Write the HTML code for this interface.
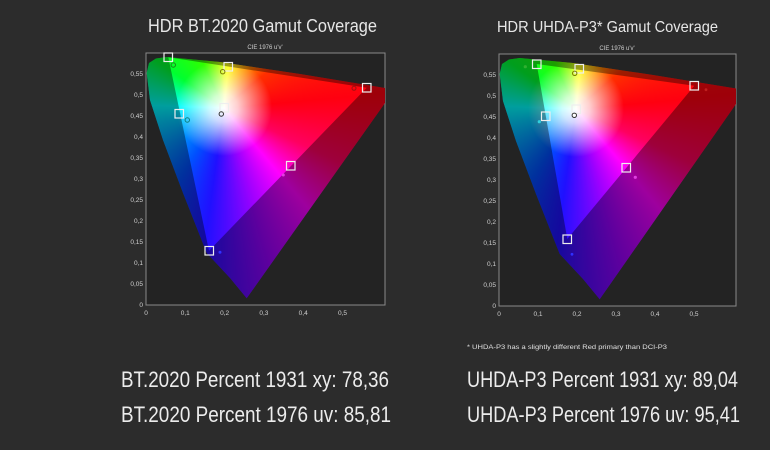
<!DOCTYPE html>
<html><head><meta charset="utf-8"><style>
html,body{margin:0;padding:0;background:#2c2c2c;}
svg{display:block}
text{font-family:"Liberation Sans",sans-serif;}
.g{position:absolute;left:0;top:0;width:770px;height:450px;}
#gl{clip-path:path('M246.7,298.3 L230,278 L206.7,253 L183,193 L163,140 L150,100 L146.7,73 L149,63 L156,58.5 L166.7,57 L220,62 L300,74 L385,88 L385,103 Z');
background:radial-gradient(circle at 224px 108px, rgba(255,255,255,1) 0px, rgba(255,255,255,0.8) 14px, rgba(255,255,255,0) 48px),
conic-gradient(from 0deg at 224px 108px,#e8ff00 0deg,#ffff00 6deg,#ffa000 26deg,#ff3000 50deg,#ff0010 85deg,#ff0060 115deg,#ff00ff 140deg,#a000ff 162deg,#2010ff 188deg,#0050ff 212deg,#0090ff 235deg,#00d0ff 258deg,#00ffff 272deg,#00ffa0 288deg,#00ff30 305deg,#30ff00 335deg,#a0ff00 352deg,#e8ff00 360deg);}
#gr{clip-path:path('M599.7,299.3 L583,279 L559.7,254 L536,194 L516,141 L503,101 L499.7,74 L502,64 L509,59.5 L519.7,58 L573,63 L653,75 L736,88.5 L736,104 Z');
background:radial-gradient(circle at 576px 109px, rgba(255,255,255,1) 0px, rgba(255,255,255,0.8) 14px, rgba(255,255,255,0) 48px),
conic-gradient(from 0deg at 576px 109px,#e8ff00 0deg,#ffff00 6deg,#ffa000 26deg,#ff3000 50deg,#ff0010 85deg,#ff0060 115deg,#ff00ff 140deg,#a000ff 162deg,#2010ff 188deg,#0050ff 212deg,#0090ff 235deg,#00d0ff 258deg,#00ffff 272deg,#00ffa0 288deg,#00ff30 305deg,#30ff00 335deg,#a0ff00 352deg,#e8ff00 360deg);}
</style></head><body>
<svg width="770" height="450" viewBox="0 0 770 450" xmlns="http://www.w3.org/2000/svg">
<rect width="770" height="450" fill="#2c2c2c"/>
<rect x="146" y="53" width="239" height="252" fill="#232323" stroke="#8a8a8a" stroke-width="1"/>
<rect x="499" y="54" width="237" height="252" fill="#232323" stroke="#8a8a8a" stroke-width="1"/>

<foreignObject x="0" y="0" width="770" height="450">
  <div xmlns="http://www.w3.org/1999/xhtml" style="position:relative;width:770px;height:450px;">
    <div class="g" id="gl"></div>
    <div class="g" id="gr"></div>
  </div>
</foreignObject>

<path d="M246.7,298.3 L230,278 L206.7,253 L183,193 L163,140 L150,100 L146.7,73 L149,63 L156,58.5 L166.7,57 L220,62 L300,74 L385,88 L385,103 Z M168.3,57.3 L366.7,87.7 L209,250.7 Z" fill-rule="evenodd" fill="#000" opacity="0.38"/>
<path d="M599.7,299.3 L583,279 L559.7,254 L536,194 L516,141 L503,101 L499.7,74 L502,64 L509,59.5 L519.7,58 L573,63 L653,75 L736,88.5 L736,104 Z M536.7,64 L694.3,85.7 L567.3,239 Z" fill-rule="evenodd" fill="#000" opacity="0.38"/>

<g fill="none" stroke="#eee" stroke-width="1.2">
  <rect x="164" y="53" width="8.5" height="8.5"/>
  <rect x="224" y="62.5" width="8.5" height="8.5"/>
  <rect x="362.5" y="83.5" width="8.5" height="8.5"/>
  <rect x="220" y="103.5" width="8.5" height="8.5"/>
  <rect x="175" y="109.5" width="8.5" height="8.5"/>
  <rect x="286.5" y="161.5" width="8.5" height="8.5"/>
  <rect x="205" y="246.5" width="8.5" height="8.5"/>
</g>
<g fill="none" stroke-width="1">
  <circle cx="173.3" cy="65" r="2.2" stroke="#1a8a1a"/>
  <circle cx="222.7" cy="71.7" r="2.2" stroke="#7a7a00"/>
  <circle cx="354" cy="88.3" r="2" stroke="#a01010"/>
  <circle cx="221.3" cy="114" r="2.2" stroke="#333"/>
  <circle cx="187.3" cy="120" r="2.2" stroke="#108080"/>
  <circle cx="283.3" cy="175" r="1.5" fill="#e040e0" stroke="none"/>
  <circle cx="220" cy="252.3" r="1.5" fill="#3030ff" stroke="none"/>
</g>
<text x="265" y="49" font-size="6" fill="#cfcfcf" text-anchor="middle">CIE 1976 u'v'</text>
<g font-size="6.5" fill="#cfcfcf" text-anchor="end">
  <text x="143" y="307">0</text><text x="143" y="286">0,05</text><text x="143" y="265">0,1</text>
  <text x="143" y="244">0,15</text><text x="143" y="223">0,2</text><text x="143" y="202">0,25</text>
  <text x="143" y="181">0,3</text><text x="143" y="160">0,35</text><text x="143" y="139">0,4</text>
  <text x="143" y="118">0,45</text><text x="143" y="97">0,5</text><text x="143" y="76">0,55</text>
</g>
<g font-size="6.5" fill="#cfcfcf" text-anchor="middle">
  <text x="146" y="315">0</text><text x="185.3" y="315">0,1</text><text x="224.6" y="315">0,2</text>
  <text x="263.9" y="315">0,3</text><text x="303.2" y="315">0,4</text><text x="342.5" y="315">0,5</text>
</g>

<g fill="none" stroke="#eee" stroke-width="1.2">
  <rect x="532.5" y="60" width="8.5" height="8.5"/>
  <rect x="575" y="64.5" width="8.5" height="8.5"/>
  <rect x="690" y="81.5" width="8.5" height="8.5"/>
  <rect x="572" y="105" width="8.5" height="8.5"/>
  <rect x="541.5" y="112" width="8.5" height="8.5"/>
  <rect x="622" y="163.5" width="8.5" height="8.5"/>
  <rect x="563" y="235" width="8.5" height="8.5"/>
</g>
<g stroke-width="1">
  <circle cx="525.3" cy="66.7" r="1.6" fill="#30b030"/>
  <circle cx="574.7" cy="73.3" r="2.2" fill="none" stroke="#7a7a00"/>
  <circle cx="706" cy="89.7" r="1.4" fill="#c02020"/>
  <circle cx="574.3" cy="115.3" r="2.2" fill="#fff" stroke="#333"/>
  <circle cx="539.3" cy="121.7" r="1.6" fill="#30d0e0"/>
  <circle cx="635.3" cy="177.3" r="1.6" fill="#e040e0"/>
  <circle cx="572" cy="254.3" r="1.4" fill="#3030ff"/>
</g>
<text x="617" y="50" font-size="6" fill="#cfcfcf" text-anchor="middle">CIE 1976 u'v'</text>
<g font-size="6.5" fill="#cfcfcf" text-anchor="end">
  <text x="496" y="308">0</text><text x="496" y="287">0,05</text><text x="496" y="266">0,1</text>
  <text x="496" y="245">0,15</text><text x="496" y="224">0,2</text><text x="496" y="203">0,25</text>
  <text x="496" y="182">0,3</text><text x="496" y="161">0,35</text><text x="496" y="140">0,4</text>
  <text x="496" y="119">0,45</text><text x="496" y="98">0,5</text><text x="496" y="77">0,55</text>
</g>
<g font-size="6.5" fill="#cfcfcf" text-anchor="middle">
  <text x="499" y="316">0</text><text x="538" y="316">0,1</text><text x="577" y="316">0,2</text>
  <text x="616" y="316">0,3</text><text x="655" y="316">0,4</text><text x="694" y="316">0,5</text>
</g>
<text x="467" y="349" font-size="6" fill="#e0e0e0" textLength="200" lengthAdjust="spacingAndGlyphs">* UHDA-P3 has a slightly different Red primary than DCI-P3</text>

<text x="148" y="32" font-size="18" fill="#e6e6e6" textLength="229" lengthAdjust="spacingAndGlyphs">HDR BT.2020  Gamut Coverage</text>
<text x="497" y="32" font-size="16" fill="#e6e6e6" textLength="221" lengthAdjust="spacingAndGlyphs">HDR UHDA-P3* Gamut Coverage</text>

<g font-size="22" fill="#ececec">
  <text x="121" y="387" textLength="268" lengthAdjust="spacingAndGlyphs">BT.2020 Percent 1931 xy: 78,36</text>
  <text x="121" y="422" textLength="270" lengthAdjust="spacingAndGlyphs">BT.2020 Percent 1976 uv: 85,81</text>
  <text x="467" y="387" textLength="271" lengthAdjust="spacingAndGlyphs">UHDA-P3 Percent 1931 xy: 89,04</text>
  <text x="467" y="422" textLength="273" lengthAdjust="spacingAndGlyphs">UHDA-P3 Percent 1976 uv: 95,41</text>
</g>
</svg>
</body></html>
